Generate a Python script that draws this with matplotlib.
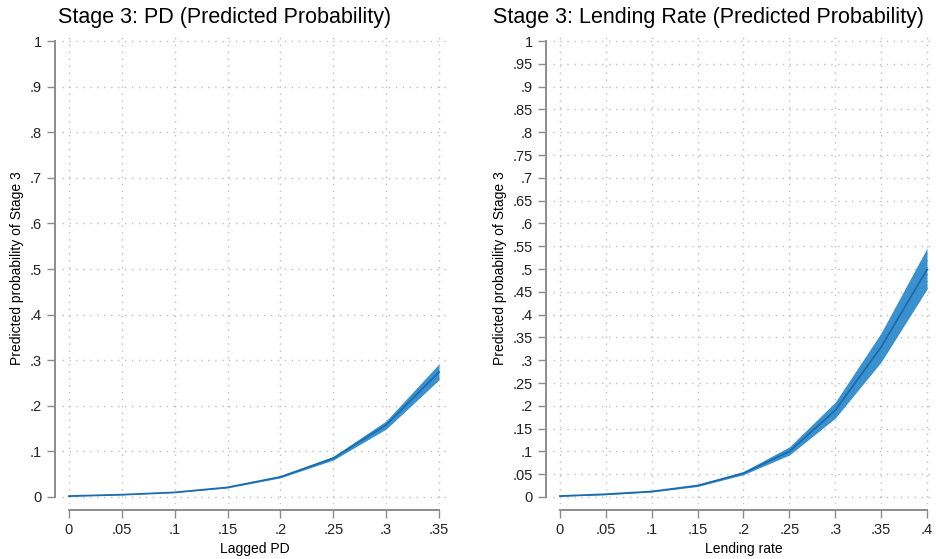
import matplotlib
matplotlib.use('Agg')

import matplotlib.pyplot as plt
import numpy as np

plt.rcParams['font.family'] = ['Liberation Sans', 'DejaVu Sans']

# predicted probabilities
pd_x = [0, .05, .1, .15, .2, .25, .3, .35]
pd_mid = [0.002, 0.005, 0.010, 0.021, 0.044, 0.085, 0.158, 0.274]
pd_lo = [0.002, 0.005, 0.010, 0.020, 0.042, 0.081, 0.149, 0.257]
pd_hi = [0.003, 0.006, 0.011, 0.022, 0.046, 0.089, 0.167, 0.292]

lr_x = [0, .05, .1, .15, .2, .25, .3, .35, .4]
lr_mid = [0.002, 0.006, 0.012, 0.025, 0.052, 0.100, 0.190, 0.329, 0.499]
lr_lo = [0.002, 0.005, 0.011, 0.023, 0.049, 0.092, 0.173, 0.296, 0.456]
lr_hi = [0.003, 0.007, 0.013, 0.027, 0.056, 0.110, 0.208, 0.360, 0.546]

pd_yticks = [0, .1, .2, .3, .4, .5, .6, .7, .8, .9, 1]
lr_yticks = [0, .05, .1, .15, .2, .25, .3, .35, .4, .45, .5, .55, .6, .65, .7,
             .75, .8, .85, .9, .95, 1]

line_col = '#1a6cae'
fill_col = '#2f8bcb'
axis_col = '#8c8c8c'

W, H = 937, 559
fig = plt.figure(figsize=(W / 100, H / 100), dpi=100)


def stata_lab(v):
  s = ('%g' % round(v, 3))
  if s.startswith('0.'):
    s = s[1:]
  return s


def panel(box, x, mid, lo, hi, xt, yt, xlim, ylim, xlabel, title, tx):
  l, t, r, b = box
  ax = fig.add_axes([l / W, 1 - b / H, (r - l) / W, (b - t) / H])
  ax.fill_between(x, lo, hi, color=fill_col, alpha=0.95, lw=0, zorder=2)
  ax.plot(x, mid, color=line_col, lw=1.3, zorder=3)
  ax.set_xlim(*xlim)
  ax.set_ylim(*ylim)
  ax.set_xticks(xt)
  ax.set_xticklabels([stata_lab(v) for v in xt])
  ax.set_yticks(yt)
  ax.set_yticklabels([stata_lab(v) for v in yt])
  ax.grid(True, color='#bdbdbd', ls=(0, (1, 4)), lw=1.0, zorder=0)
  for s in ['top', 'right']:
    ax.spines[s].set_visible(False)
  ax.spines['left'].set_position(('outward', 5))
  ax.spines['bottom'].set_position(('outward', 4))
  ax.spines['left'].set_bounds(0, 1)
  ax.spines['bottom'].set_bounds(xt[0], xt[-1])
  for s in ['left', 'bottom']:
    ax.spines[s].set_color(axis_col)
    ax.spines[s].set_linewidth(1.4)
  ax.tick_params(colors=axis_col, labelcolor='#222222', labelsize=10.5,
                 length=6, width=1.0, direction='out')
  ax.set_ylabel('Predicted probability of Stage 3', fontsize=10, labelpad=4)
  ax.set_xlabel(xlabel, fontsize=10, labelpad=4)
  fig.text(tx / W, 1 - 17 / H, title, ha='center', va='center', fontsize=15.5)
  return ax


panel((62, 32, 448, 504), pd_x, pd_mid, pd_lo, pd_hi, pd_x, pd_yticks,
      (-0.0066, 0.3585), (-0.0154, 1.02), 'Lagged PD',
      'Stage 3: PD (Predicted Probability)', 225)
panel((553, 32, 934, 504), lr_x, lr_mid, lr_lo, lr_hi, lr_x, lr_yticks,
      (-0.0076, 0.4076), (-0.0154, 1.02), 'Lending rate',
      'Stage 3: Lending Rate (Predicted Probability)', 709)

plt.savefig('out.png', dpi=100)
plt.close()
